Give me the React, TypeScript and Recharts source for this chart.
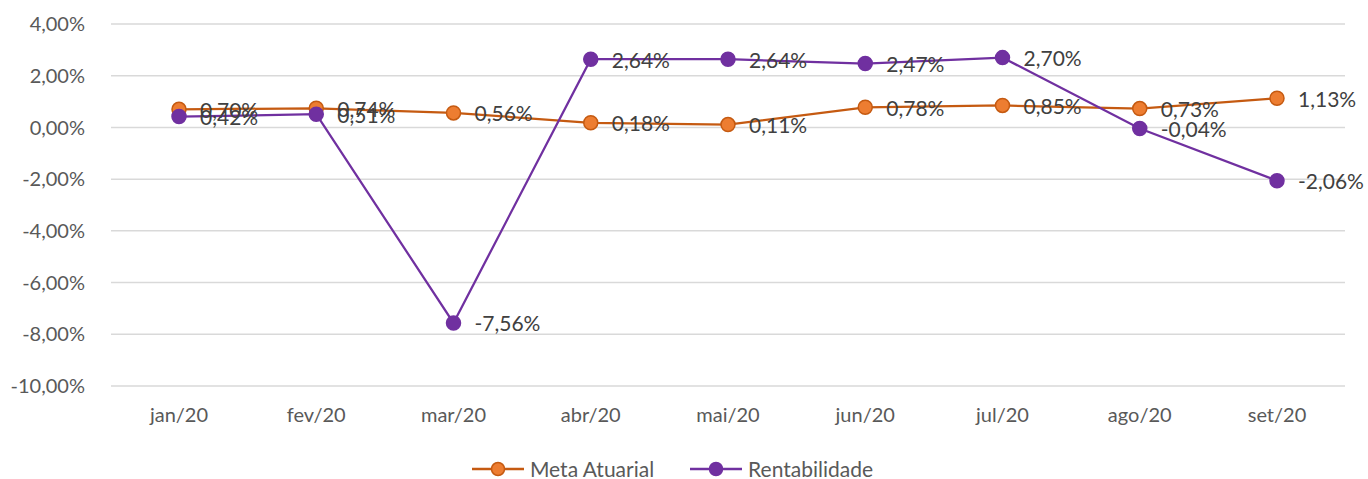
import { LineChart, Line, XAxis, YAxis, CartesianGrid, LabelList, Legend } from "recharts";

const months = ["jan/20", "fev/20", "mar/20", "abr/20", "mai/20", "jun/20", "jul/20", "ago/20", "set/20"];
const metaAtuarial = [0.70, 0.74, 0.56, 0.18, 0.11, 0.78, 0.85, 0.73, 1.13];
const rentabilidade = [0.42, 0.51, -7.56, 2.64, 2.64, 2.47, 2.70, -0.04, -2.06];
const yTicks = [-10, -8, -6, -4, -2, 0, 2, 4];

const data = months.map((m, i) => ({ month: m, meta: metaAtuarial[i], rent: rentabilidade[i] }));

const FONT = "Lato, 'Open Sans', sans-serif";
const fmt = (v: number) => v.toFixed(2).replace(".", ",") + "%";

const ValueLabel = (props: any) => {
  const { x, y, value } = props;
  return (
    <text x={x + 21} y={y} dominantBaseline="central" fill="#404040" fontSize={21} fontFamily={FONT}>
      {fmt(value)}
    </text>
  );
};

const legendItems = [
  { name: "Meta Atuarial", line: "#C55A11", fill: "#ED7D31" },
  { name: "Rentabilidade", line: "#7030A0", fill: "#7030A0" },
];

const LegendContent = () => (
  <div style={{ display: "flex", justifyContent: "center", gap: 36, paddingTop: 8, fontFamily: FONT, fontSize: 21, color: "#595959" }}>
    {legendItems.map((it) => (
      <div key={it.name} style={{ display: "flex", alignItems: "center" }}>
        <svg width={52} height={16} style={{ marginRight: 6 }}>
          <line x1={0} y1={8} x2={52} y2={8} stroke={it.line} strokeWidth={2.5} />
          <circle cx={26} cy={8} r={6.5} fill={it.fill} stroke={it.line} strokeWidth={1.5} />
        </svg>
        <span>{it.name}</span>
      </div>
    ))}
  </div>
);

export default function App() {
  return (
    <div style={{ position: "absolute", left: 0, top: 0 }}>
      <LineChart width={1368} height={479} data={data} margin={{ top: 24, right: 23, left: 0, bottom: 0 }}>
        <CartesianGrid vertical={false} stroke="#D9D9D9" strokeWidth={1.5} />
        <XAxis
          dataKey="month"
          axisLine={false}
          tickLine={false}
          padding={{ left: 68, right: 68 }}
          tick={{ fill: "#595959", fontSize: 20, fontFamily: FONT }}
          tickMargin={16}
          height={62}
        />
        <YAxis
          domain={[-10, 4]}
          ticks={yTicks}
          axisLine={false}
          tickLine={false}
          width={111}
          tickFormatter={fmt}
          tick={{ fill: "#595959", fontSize: 20, fontFamily: FONT }}
          tickMargin={20}
        />
        <Legend verticalAlign="bottom" height={31} content={<LegendContent />} />
        <Line
          dataKey="meta"
          name="Meta Atuarial"
          stroke="#C55A11"
          strokeWidth={2.25}
          isAnimationActive={false}
          dot={{ r: 7, fill: "#ED7D31", stroke: "#C55A11", strokeWidth: 1.5 }}
          activeDot={false}
        >
          <LabelList dataKey="meta" content={<ValueLabel />} />
        </Line>
        <Line
          dataKey="rent"
          name="Rentabilidade"
          stroke="#7030A0"
          strokeWidth={2.25}
          isAnimationActive={false}
          dot={{ r: 7, fill: "#7030A0", stroke: "#7030A0", strokeWidth: 1.5 }}
          activeDot={false}
        >
          <LabelList dataKey="rent" content={<ValueLabel />} />
        </Line>
      </LineChart>
    </div>
  );
}
